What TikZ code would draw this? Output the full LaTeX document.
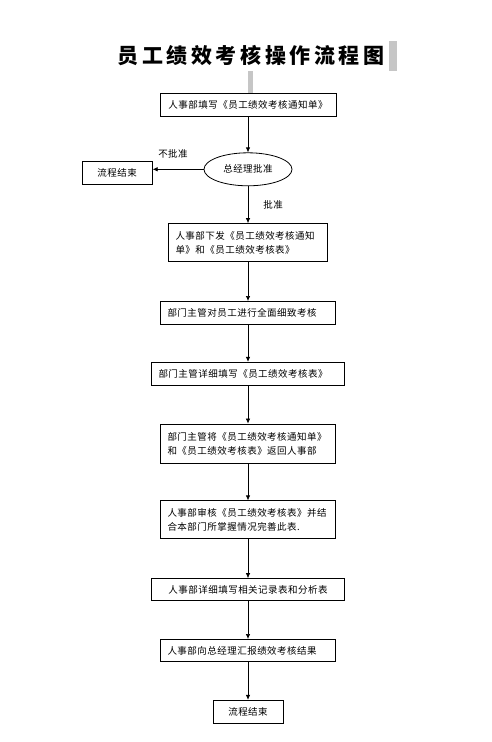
\documentclass[tikz,border=0pt]{standalone}
\usepackage{fontspec}
\newfontfamily\cjk[LetterSpace=5]{Noto Sans CJK SC}
\newfontfamily\cjktitle[LetterSpace=17]{Noto Sans CJK SC}
\usetikzlibrary{arrows.meta,positioning,shapes.geometric}

\begin{document}
\begin{tikzpicture}[
  x=1pt, y=1pt,
  node distance=38pt,
  box/.style={draw, line width=0.8pt, inner xsep=7pt, inner ysep=2pt, align=left, minimum height=23pt, font=\cjk\fontsize{9.5}{14}\selectfont},
  dec/.style={draw, ellipse, line width=0.8pt, minimum width=88pt, minimum height=33pt, inner sep=0pt, font=\cjk\fontsize{9.5}{14}\selectfont},
  lbl/.style={inner sep=2pt, font=\cjk\fontsize{9.5}{14}\selectfont},
  arr/.style={-{Latex[length=5pt,width=4.5pt]}, line width=0.7pt}
]
\useasboundingbox (0,0) rectangle (491,-742);

\node[font=\cjktitle\bfseries\fontsize{21}{24}\selectfont] (title) at (251,-56) {员工绩效考核操作流程图};
\fill[gray!45] (389,-41) rectangle (397,-71);
\fill[gray!45] (248,-71) rectangle (253,-93);

\node[box, text width=162pt, align=center] (notice) at (248,-104.5) {人事部填写《员工绩效考核通知单》};
\node[dec, below=36pt of notice] (approve) {总经理批准};
\node[box, text width=56pt, align=center, left=51pt of approve, yshift=-4pt] (stop1) {流程结束};
\node[box, text width=145pt, minimum height=38pt, below=37pt of approve] (issue) {人事部下发《员工绩效考核通知\\单》和《员工绩效考核表》};
\node[box, text width=161pt, below=39pt of issue] (assess) {部门主管对员工进行全面细致考核};
\node[box, text width=179pt, below=37pt of assess] (sheet) {部门主管详细填写《员工绩效考核表》};
\node[box, text width=161pt, minimum height=39pt, below=38pt of sheet] (back) {部门主管将《员工绩效考核通知单》\\和《员工绩效考核表》返回人事部};
\node[box, text width=161pt, minimum height=38pt, below=37pt of back] (review) {人事部审核《员工绩效考核表》并结\\合本部门所掌握情况完善此表.};
\node[box, text width=179pt, align=center, minimum height=22pt, below=39pt of review] (record) {人事部详细填写相关记录表和分析表};
\node[box, text width=161pt, minimum height=22pt, below=38pt of record] (report) {人事部向总经理汇报绩效考核结果};
\node[box, text width=56pt, align=center, below=38pt of report] (stop2) {流程结束};

\draw[arr] (notice) -- (approve);
\draw[arr] (approve.west) -- (approve.west -| stop1.east) node[lbl, pos=0.6, above=9pt] {不批准};
\draw[arr] (approve) -- node[lbl, right=13pt] {批准} (issue);
\foreach \a/\b in {issue/assess, assess/sheet, sheet/back, back/review, review/record, record/report, report/stop2}
  \draw[arr] (\a) -- (\b);
\end{tikzpicture}
\end{document}
